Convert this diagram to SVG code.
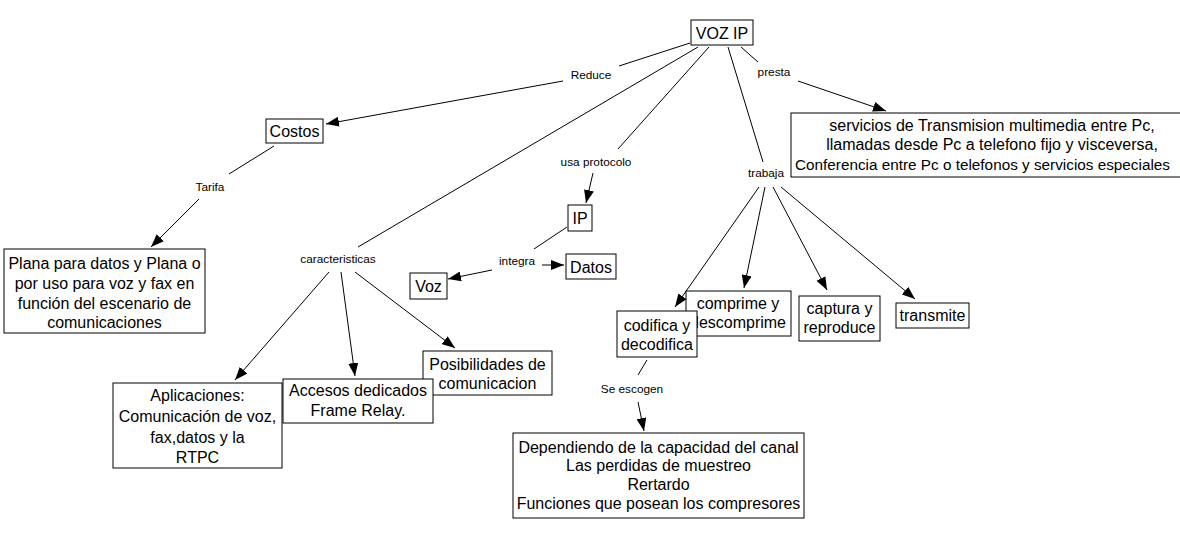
<svg xmlns="http://www.w3.org/2000/svg" width="1180" height="538" viewBox="0 0 1180 538">
<style>
.bx{fill:#fff;stroke:#000;stroke-width:1}
.t{font-family:"Liberation Sans",Arial,sans-serif;font-size:16px;fill:#000;text-anchor:middle}
.l{font-family:"Liberation Sans",Arial,sans-serif;font-size:11.8px;fill:#000;text-anchor:middle}
.c{stroke:#000;stroke-width:1;fill:none}
.a{marker-end:url(#ah)}
</style>
<defs>
<marker id="ah" markerUnits="userSpaceOnUse" markerWidth="13" markerHeight="10" refX="13" refY="5" orient="auto">
<path d="M0,0 L13,5 L0,10 z" fill="#000"/>
</marker>
</defs>
<rect width="1180" height="538" fill="#fff"/>
<g id="connectors">
<line class="c" x1="690" y1="43" x2="619" y2="66"/>
<line class="c a" x1="563" y1="81" x2="326" y2="124"/>
<line class="c" x1="698" y1="47" x2="358" y2="247"/>
<line class="c" x1="709" y1="47" x2="618" y2="149"/>
<line class="c a" x1="593" y1="173" x2="586" y2="203"/>
<line class="c" x1="728" y1="47" x2="763" y2="162"/>
<line class="c" x1="741" y1="47" x2="758" y2="62"/>
<line class="c a" x1="798" y1="81" x2="886" y2="111"/>
<line class="c" x1="274" y1="146" x2="229" y2="174"/>
<line class="c a" x1="199" y1="199" x2="151" y2="247"/>
<line class="c" x1="567" y1="227" x2="534" y2="249"/>
<line class="c a" x1="492" y1="270" x2="448" y2="279"/>
<line class="c a" x1="542" y1="265" x2="564" y2="265"/>
<line class="c a" x1="329" y1="272" x2="235" y2="380"/>
<line class="c a" x1="341" y1="272" x2="355" y2="376"/>
<line class="c a" x1="355" y1="272" x2="455" y2="348"/>
<line class="c a" x1="759" y1="187" x2="675" y2="307"/>
<line class="c a" x1="765" y1="187" x2="744" y2="288"/>
<line class="c a" x1="773" y1="187" x2="827" y2="290"/>
<line class="c a" x1="781" y1="187" x2="915" y2="299"/>
<line class="c" x1="647" y1="360" x2="638" y2="375"/>
<line class="c a" x1="638" y1="402" x2="644" y2="431"/>
<text class="l" x="591" y="79">Reduce</text>
<text class="l" x="774" y="76">presta</text>
<text class="l" x="338" y="263">caracteristicas</text>
<text class="l" x="596" y="166">usa protocolo</text>
<text class="l" x="766" y="177">trabaja</text>
<text class="l" x="210" y="191">Tarifa</text>
<text class="l" x="517" y="265">integra</text>
<text class="l" x="632" y="393">Se escogen</text>
</g>
<g id="n-vozip"><rect class="bx" x="691" y="20" width="62" height="25"/><text class="t" x="722" y="38.5">VOZ IP</text></g>
<g id="n-costos"><rect class="bx" x="266" y="119" width="57" height="24"/><text class="t" x="294.5" y="137">Costos</text></g>
<g id="n-plana"><rect class="bx" x="4" y="249" width="201" height="84"/>
<text class="t" x="104.5" y="268.5">Plana para datos y Plana o</text>
<text class="t" x="104.5" y="288.5">por uso para voz y fax en</text>
<text class="t" x="104.5" y="308.5">función del escenario de</text>
<text class="t" x="104.5" y="327.5">comunicaciones</text></g>
<g id="n-servicios"><rect class="bx" x="791" y="113" width="410" height="64"/>
<text class="t" x="992" y="130.5">servicios de Transmision multimedia entre Pc,</text>
<text class="t" x="992" y="150">llamadas desde Pc a telefono fijo y visceversa,</text>
<text class="t" x="795" y="169.5" style="text-anchor:start;font-size:15.3px">Conferencia entre Pc o telefonos y servicios especiales</text></g>
<g id="n-ip"><rect class="bx" x="568" y="205" width="24" height="26"/><text class="t" x="580" y="223.5">IP</text></g>
<g id="n-datos"><rect class="bx" x="566" y="254" width="50" height="25"/><text class="t" x="591" y="272.5">Datos</text></g>
<g id="n-voz"><rect class="bx" x="410" y="273" width="37" height="26"/><text class="t" x="428.5" y="291.5">Voz</text></g>
<g id="n-aplicaciones"><rect class="bx" x="113" y="383" width="169" height="85"/>
<text class="t" x="197.5" y="400.5">Aplicaciones:</text>
<text class="t" x="197.5" y="421.5">Comunicación de voz,</text>
<text class="t" x="197.5" y="442.5">fax,datos y la</text>
<text class="t" x="197.5" y="462.5">RTPC</text></g>
<g id="n-posibilidades"><rect class="bx" x="423" y="351" width="129" height="44"/>
<text class="t" x="487.5" y="369.5">Posibilidades de</text>
<text class="t" x="487.5" y="388.5">comunicacion</text></g>
<g id="n-accesos"><rect class="bx" x="283" y="379" width="150" height="44"/>
<text class="t" x="358" y="395.5">Accesos dedicados</text>
<text class="t" x="358" y="415.5">Frame Relay.</text></g>
<g id="n-comprime"><rect class="bx" x="686" y="291" width="105" height="45"/>
<text class="t" x="738" y="308.5">comprime y</text>
<text class="t" x="738" y="327.5">descomprime</text></g>
<g id="n-codifica"><rect class="bx" x="617" y="311" width="80" height="46"/>
<text class="t" x="657" y="330.5">codifica y</text>
<text class="t" x="657" y="349.5">decodifica</text></g>
<g id="n-captura"><rect class="bx" x="799" y="296" width="81" height="45"/>
<text class="t" x="839.5" y="313.5">captura y</text>
<text class="t" x="839.5" y="332.5">reproduce</text></g>
<g id="n-transmite"><rect class="bx" x="896" y="303" width="73" height="25"/><text class="t" x="932.5" y="320.5">transmite</text></g>
<g id="n-dependiendo"><rect class="bx" x="513" y="433" width="291" height="85"/>
<text class="t" x="658.5" y="452.5">Dependiendo de la capacidad del canal</text>
<text class="t" x="658.5" y="470.5">Las perdidas de muestreo</text>
<text class="t" x="658.5" y="489.5">Rertardo</text>
<text class="t" x="658.5" y="508.5">Funciones que posean los compresores</text></g>
</svg>
